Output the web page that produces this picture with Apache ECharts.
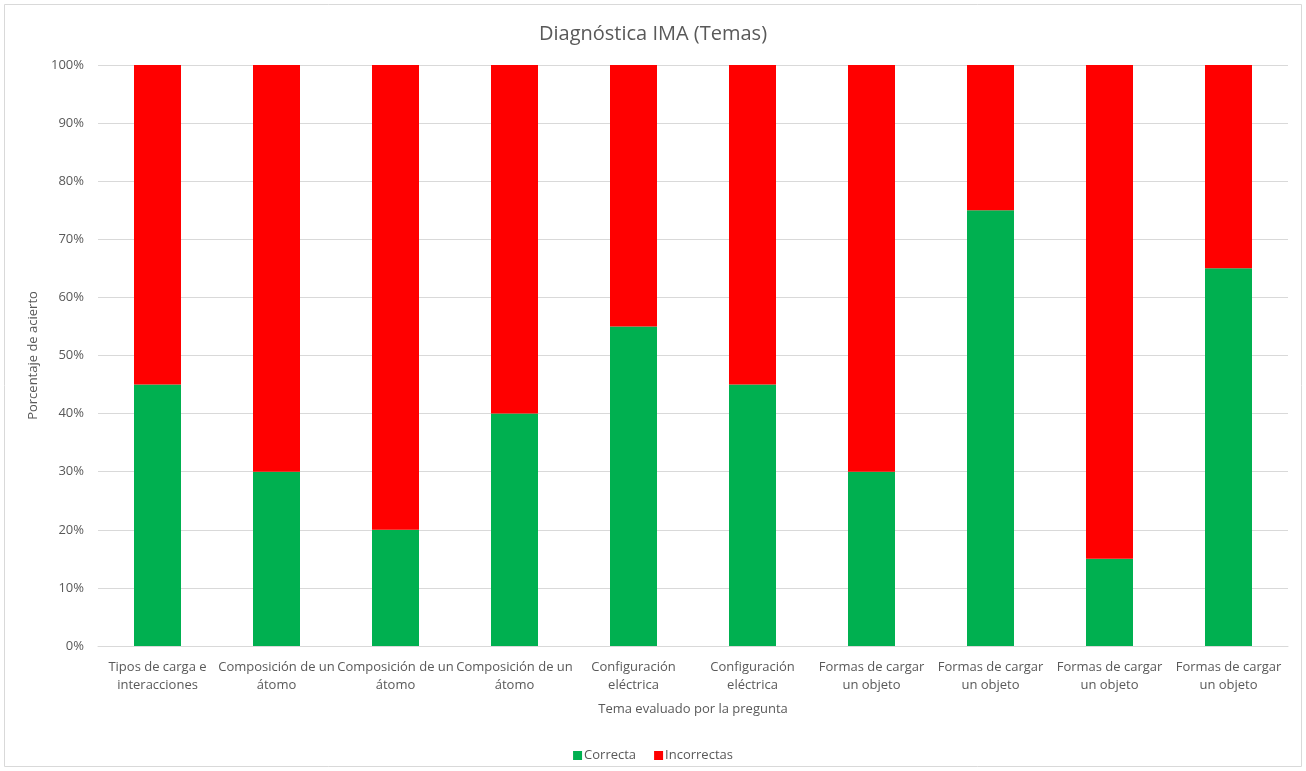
<!DOCTYPE html>
<html><head><meta charset="utf-8">
<script src="https://cdn.jsdelivr.net/npm/echarts@6/dist/echarts.min.js"></script>
<style>html,body{margin:0;padding:0;background:#fff}#c{width:1306px;height:771px}</style>
</head><body><div id="c"></div>
<script>
const categories = [
  "Tipos de carga e\ninteracciones",
  "Composición de un\nátomo",
  "Composición de un\nátomo",
  "Composición de un\nátomo",
  "Configuración\neléctrica",
  "Configuración\neléctrica",
  "Formas de cargar\nun objeto",
  "Formas de cargar\nun objeto",
  "Formas de cargar\nun objeto",
  "Formas de cargar\nun objeto"
];
const correcta = [45, 30, 20, 40, 55, 45, 30, 75, 15, 65];
const incorrectas = [55, 70, 80, 60, 45, 55, 70, 25, 85, 35];

const font = "'Open Sans', 'Noto Sans', sans-serif";
const chart = echarts.init(document.getElementById('c'), null, {renderer: 'canvas'});
chart.setOption({
  animation: false,
  textStyle: {fontFamily: font},
  graphic: [{type: 'rect', shape: {x: 4.5, y: 4.5, width: 1297, height: 762}, style: {fill: 'none', stroke: '#d9d9d9', lineWidth: 1}, silent: true}],
  title: {text: 'Diagnóstica IMA (Temas)', left: 'center', top: 19, textStyle: {fontFamily: font, fontSize: 20, fontWeight: 'normal', color: '#595959'}},
  legend: {bottom: 4, itemWidth: 9, itemHeight: 9, itemGap: 18, icon: 'rect', textStyle: {fontFamily: font, fontSize: 13, color: '#595959', padding: [0, 0, 0, -3]}, data: ['Correcta', 'Incorrectas']},
  grid: {left: 98, right: 18, top: 65, bottom: 125, containLabel: false},
  xAxis: {
    type: 'category', data: categories,
    name: 'Tema evaluado por la pregunta', nameLocation: 'middle', nameGap: 57,
    nameTextStyle: {fontFamily: font, fontSize: 13, color: '#595959'},
    axisLine: {lineStyle: {color: '#d9d9d9'}}, axisTick: {show: false},
    axisLabel: {interval: 0, fontFamily: font, fontSize: 13, color: '#595959', lineHeight: 18, margin: 12}
  },
  yAxis: {
    type: 'value', min: 0, max: 100, interval: 10,
    name: 'Porcentaje de acierto', nameLocation: 'middle', nameGap: 58, nameRotate: 90,
    nameTextStyle: {fontFamily: font, fontSize: 13, color: '#595959'},
    axisLabel: {formatter: '{value}%', fontFamily: font, fontSize: 13, color: '#595959', margin: 14},
    axisLine: {show: false}, axisTick: {show: false},
    splitLine: {lineStyle: {color: '#d9d9d9'}}
  },
  series: [
    {name: 'Correcta', type: 'bar', stack: 't', data: correcta, barWidth: 47, itemStyle: {color: '#00b050'}},
    {name: 'Incorrectas', type: 'bar', stack: 't', data: incorrectas, barWidth: 47, itemStyle: {color: '#ff0000'}}
  ]
});
</script></body></html>
